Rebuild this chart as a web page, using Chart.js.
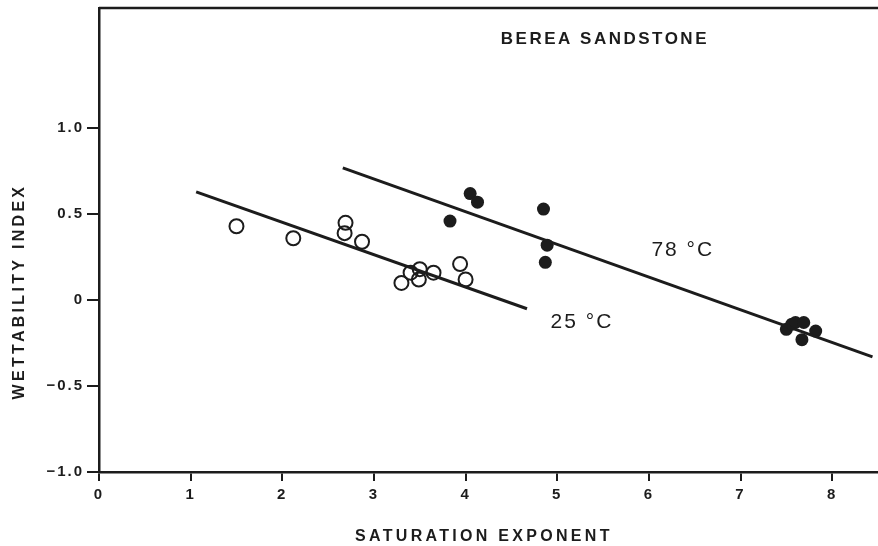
<!DOCTYPE html>
<html>
<head>
<meta charset="utf-8">
<script src="https://cdn.jsdelivr.net/npm/chart.js@4/dist/chart.umd.min.js"></script>
<style>
  html, body { margin: 0; padding: 0; background: #fff; }
  canvas { display: block; filter: blur(0.4px); }
</style>
</head>
<body>
<canvas id="wett" width="878" height="546"></canvas>
<script>
// axis ticks
const xTicks = [0, 1, 2, 3, 4, 5, 6, 7, 8];
const yTicks = [-1.0, -0.5, 0, 0.5, 1.0];

// 25 C samples (open circles)
const coldX = [1.50, 2.12, 2.69, 2.68, 2.87, 3.30, 3.40, 3.50, 3.49, 3.65, 3.94, 4.00];
const coldY = [0.43, 0.36, 0.45, 0.39, 0.34, 0.10, 0.16, 0.18, 0.12, 0.16, 0.21, 0.12];

// 78 C samples (filled circles)
const hotX = [3.83, 4.05, 4.13, 4.85, 4.89, 4.87, 7.50, 7.56, 7.60, 7.69, 7.67, 7.82];
const hotY = [0.46, 0.62, 0.57, 0.53, 0.32, 0.22, -0.17, -0.14, -0.13, -0.13, -0.23, -0.18];

// fitted lines, end points
const coldFitX = [1.06, 4.67];
const coldFitY = [0.63, -0.05];
const hotFitX = [2.66, 8.44];
const hotFitY = [0.77, -0.33];

// text placed in data space
const noteText = ['BEREA SANDSTONE', '78 °C', '25 °C'];
const noteX = [5.52, 6.37, 5.27];
const noteY = [1.52, 0.29, -0.13];
const noteBold = [true, false, false];

const xTitle = 'SATURATION EXPONENT';
const yTitle = 'WETTABILITY INDEX';

const ink = '#1c1c1c';
const fam = '"Liberation Sans", Arial, Helvetica, sans-serif';

const pts = (xs, ys) => xs.map((x, i) => ({ x: x, y: ys[i] }));

const frameAndNotes = {
  id: 'frameAndNotes',
  beforeDraw(chart) {
    chart.ctx.letterSpacing = '2px';
  },
  afterDraw(chart) {
    const { ctx, chartArea, scales } = chart;
    ctx.save();
    ctx.strokeStyle = ink;
    ctx.lineWidth = 2.5;
    ctx.beginPath();
    ctx.moveTo(chartArea.left, chartArea.top);
    ctx.lineTo(chartArea.right, chartArea.top);
    ctx.stroke();

    ctx.fillStyle = ink;
    ctx.textAlign = 'center';
    ctx.textBaseline = 'middle';
    noteText.forEach((t, i) => {
      ctx.letterSpacing = noteBold[i] ? '2.5px' : '2px';
      ctx.font = noteBold[i] ? 'bold 17px ' + fam : '21px ' + fam;
      ctx.fillText(t, scales.x.getPixelForValue(noteX[i]), scales.y.getPixelForValue(noteY[i]));
    });

    // axis titles
    ctx.font = 'bold 16px ' + fam;
    ctx.letterSpacing = '3.3px';
    ctx.fillText(xTitle, scales.x.getPixelForValue(4.2), 537);
    ctx.translate(20, scales.y.getPixelForValue(0.05));
    ctx.rotate(-Math.PI / 2);
    ctx.fillText(yTitle, 0, 0);
    ctx.restore();
  }
};

new Chart(document.getElementById('wett'), {
  type: 'scatter',
  data: {
    datasets: [
      {
        label: '25 C fit',
        data: pts(coldFitX, coldFitY),
        showLine: true,
        borderColor: ink,
        borderWidth: 3,
        pointRadius: 0
      },
      {
        label: '78 C fit',
        data: pts(hotFitX, hotFitY),
        showLine: true,
        borderColor: ink,
        borderWidth: 3,
        pointRadius: 0
      },
      {
        label: '25 C',
        data: pts(coldX, coldY),
        pointRadius: 7,
        pointBorderWidth: 2,
        pointBorderColor: ink,
        pointBackgroundColor: 'rgba(255,255,255,0)'
      },
      {
        label: '78 C',
        data: pts(hotX, hotY),
        pointRadius: 6.5,
        pointBorderWidth: 0,
        pointBackgroundColor: ink
      }
    ]
  },
  options: {
    responsive: false,
    animation: false,
    layout: { autoPadding: false, padding: { top: 8, right: 0, left: 0, bottom: 0 } },
    plugins: {
      legend: { display: false },
      tooltip: { enabled: false }
    },
    scales: {
      x: {
        type: 'linear',
        min: 0,
        max: 8.5,
        afterBuildTicks: s => { s.ticks = xTicks.map(v => ({ value: v })); },
        afterFit: s => { s.height = 74; s.paddingLeft = 0; s.paddingRight = 0; },
        grid: { drawOnChartArea: false, drawTicks: true, tickLength: 9, color: ink, lineWidth: 2 },
        border: { color: ink, width: 2.5 },
        ticks: {
          color: ink,
          padding: 5,
          maxRotation: 0,
          font: { family: fam, size: 15, weight: 'bold' },
          callback: v => String(v)
        }
      },
      y: {
        type: 'linear',
        min: -1.0,
        max: 1.7,
        afterBuildTicks: s => { s.ticks = yTicks.map(v => ({ value: v })); },
        afterFit: s => { s.width = 99; s.paddingTop = 0; s.paddingBottom = 0; },
        grid: { drawOnChartArea: false, drawTicks: true, tickLength: 12, color: ink, lineWidth: 2 },
        border: { color: ink, width: 2.5 },
        ticks: {
          color: ink,
          padding: 3,
          font: { family: fam, size: 15, weight: 'bold' },
          callback: v => v === 0 ? '0' : (v < 0 ? '\u2212' : '') + Math.abs(v).toFixed(1)
        }
      }
    }
  },
  plugins: [frameAndNotes]
});
</script>
</body>
</html>
